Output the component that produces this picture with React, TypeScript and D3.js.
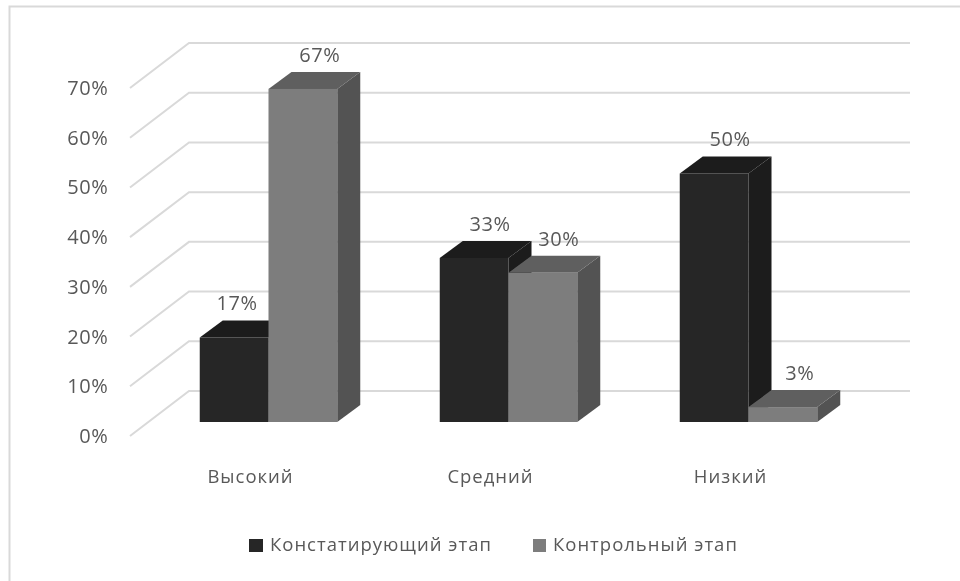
import React from "react";
import * as d3 from "d3";

const categories = ["Высокий", "Средний", "Низкий"];
const seriesNames = ["Констатирующий этап", "Контрольный этап"];
const firstStage = [17, 33, 50];
const secondStage = [67, 30, 3];
const ticks = [0, 10, 20, 30, 40, 50, 60, 70];
const FONT = "'Open Sans', 'Noto Sans', sans-serif";
const TEXT = "#595959";

const x = d3.scaleBand<string>().domain(categories).range([148.5, 868.5]).paddingInner(0.427).paddingOuter(0.2135);
const sub = d3.scaleBand<number>().domain([0, 1]).range([0, x.bandwidth()]);
const yFront = d3.scaleLinear().domain([0, 70]).range([422, 74]);
const yAxis = d3.scaleLinear().domain([0, 70]).range([436, 88]);
const yBack = d3.scaleLinear().domain([0, 70]).range([391, 43]);
const palette = [
  { front: "#262626", top: "#1e1e1e", side: "#1a1a1a" },
  { front: "#7d7d7d", top: "#5f5f5f", side: "#525252" },
];
const DX = 23, DY = -17;
const path = (pts: [number, number][]) => d3.line()(pts) + "Z";
const labelStyle = { fontFamily: FONT, fontSize: 18.5, fill: TEXT, letterSpacing: 1 };
const valueStyle = { fontFamily: FONT, fontSize: 20, fill: TEXT, letterSpacing: 0.6 };

function Bar({ cat, s, v }: { cat: string; s: number; v: number }) {
  const x0 = x(cat)! + sub(s)!;
  const x1 = x0 + sub.bandwidth();
  const y0 = yFront(0), y1 = yFront(v);
  const c = palette[s];
  return (
    <g>
      <path d={path([[x1, y0], [x1 + DX, y0 + DY], [x1 + DX, y1 + DY], [x1, y1]])} fill={c.side} />
      <path d={path([[x0, y1], [x0 + DX, y1 + DY], [x1 + DX, y1 + DY], [x1, y1]])} fill={c.top} />
      <rect x={x0} y={y1} width={sub.bandwidth()} height={y0 - y1} fill={c.front} />
    </g>
  );
}

// Horizontal nudges of the data labels.
const labelShift = [[3, 17], [16, 16], [16, 17]];

export default function App() {
  const series = [firstStage, secondStage];
  return (
    <svg width={960} height={581} style={{ position: "fixed", left: 0, top: 0, background: "#fff" }}>
      <defs>
        <filter id="soft" x="0" y="0" width="960" height="581" filterUnits="userSpaceOnUse">
          <feGaussianBlur stdDeviation="0.6" />
        </filter>
      </defs>
      <g filter="url(#soft)">
        <rect x={0} y={0} width={960} height={581} fill="#fff" />
        <path d="M9.5,581V6.5H960" fill="none" stroke="#d9d9d9" strokeWidth={2} />
        {ticks.map((t) => (
          <g key={t}>
            <path d={`M130,${yAxis(t)}L189,${yBack(t)}H910`} fill="none" stroke="#d9d9d9" strokeWidth={2} />
            <text x={108.5} y={yAxis(t) + 7} textAnchor="end" {...valueStyle}>{t}%</text>
          </g>
        ))}
        {categories.map((c, i) => (
          <g key={c}>
            <Bar cat={c} s={0} v={firstStage[i]} />
            <Bar cat={c} s={1} v={secondStage[i]} />
          </g>
        ))}
        {categories.map((c, i) => (
          <g key={c}>
            {series.map((vals, s) => (
              <text key={s} x={x(c)! + sub(s)! + sub.bandwidth() / 2 + labelShift[i][s]} y={yFront(vals[i]) + DY - 10}
                textAnchor="middle" {...valueStyle}>{vals[i]}%</text>
            ))}
            <text x={x(c)! + x.bandwidth() / 2 - 18} y={483} textAnchor="middle" {...labelStyle}>{c}</text>
          </g>
        ))}
        <rect x={249} y={539} width={14} height={13} fill={palette[0].front} />
        <text x={270} y={551} {...labelStyle}>{seriesNames[0]}</text>
        <rect x={533} y={539} width={13} height={13} fill={palette[1].front} />
        <text x={553} y={551} {...labelStyle}>{seriesNames[1]}</text>
      </g>
    </svg>
  );
}
